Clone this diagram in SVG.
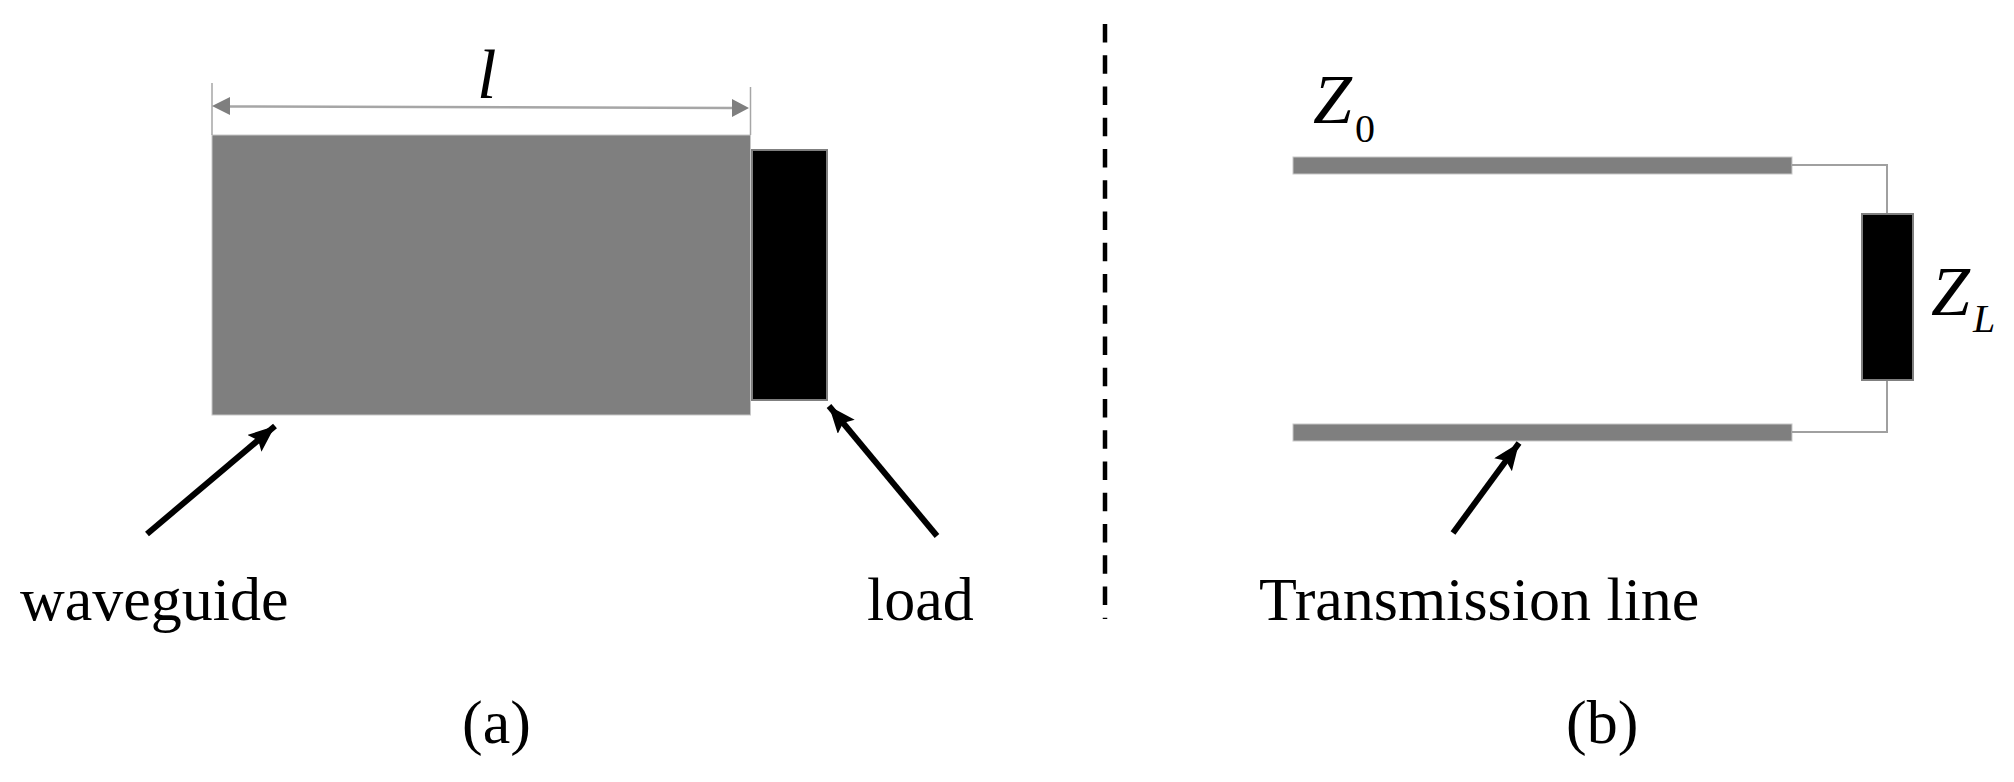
<svg xmlns="http://www.w3.org/2000/svg" width="2014" height="782" viewBox="0 0 2014 782">
<style>
text{font-family:"Liberation Serif","Times New Roman",serif;fill:#000}
.lbl{font-size:62px}
.sym{font-style:italic;font-size:70px}
.sub{font-size:40px}
.ptr{stroke:#000;stroke-width:6;fill:none;marker-end:url(#ah)}
.dim{stroke:#a6a6a6;stroke-width:2.500;fill:none}
.tick{stroke:#a6a6a6;stroke-width:1.500;fill:none}
.wire{stroke:#a0a0a0;stroke-width:2;fill:none}
.bar{fill:#7f7f7f;stroke:#c8c8c8;stroke-width:1}
.blk{fill:#000;stroke:#7f7f7f;stroke-width:2}
</style>
<defs>
<marker id="ah" markerUnits="userSpaceOnUse" markerWidth="30" markerHeight="24" refX="27" refY="11" orient="auto"><path d="M0 0L27 11L0 22L5 11Z" fill="#000"/></marker>
</defs>
<rect width="2014" height="782" fill="#fff"/>
<g id="waveguide"><rect class="bar" x="212" y="135" width="538.500" height="280"/></g>
<g id="load"><rect class="blk" x="752" y="150" width="75" height="250"/></g>
<g id="line-top"><rect class="bar" x="1293" y="157" width="499" height="17"/></g>
<g id="line-bottom"><rect class="bar" x="1293" y="424" width="499" height="17"/></g>
<g id="connectors">
<path class="tick" d="M212 83V135M750.500 87V135"/>
<path class="dim" d="M228 106.500L734 108"/>
<path d="M212 106L230 97V115Z M749 108L732 99V117Z" fill="#7f7f7f"/>
<path class="ptr" d="M147 534L275 426"/>
<path class="ptr" d="M937 536L829 406"/>
<path class="ptr" d="M1453 533L1519 443"/>
<path class="wire" d="M1792 165H1887V214M1887 380V432H1792"/>
<path d="M1105 24V619" stroke="#000" stroke-width="4.500" stroke-dasharray="18.500 12.750" fill="none"/>
</g>
<g id="resistor"><rect class="blk" x="1862" y="214" width="51" height="166"/></g>
<g id="labels">
<text class="sym" x="477" y="98">l</text>
<text class="lbl" x="20" y="620">waveguide</text>
<text class="lbl" x="867" y="620">load</text>
<text class="lbl" x="462" y="743">(a)</text>
<text class="lbl" x="1566" y="743">(b)</text>
<text class="lbl" x="1259" y="620">Transmission line</text>
<text class="sym" x="1313" y="123">Z</text>
<text class="sub" x="1355" y="142">0</text>
<text class="sym" x="1931" y="315">Z</text>
<text class="sub" font-style="italic" x="1973" y="332">L</text>
</g>
</svg>
